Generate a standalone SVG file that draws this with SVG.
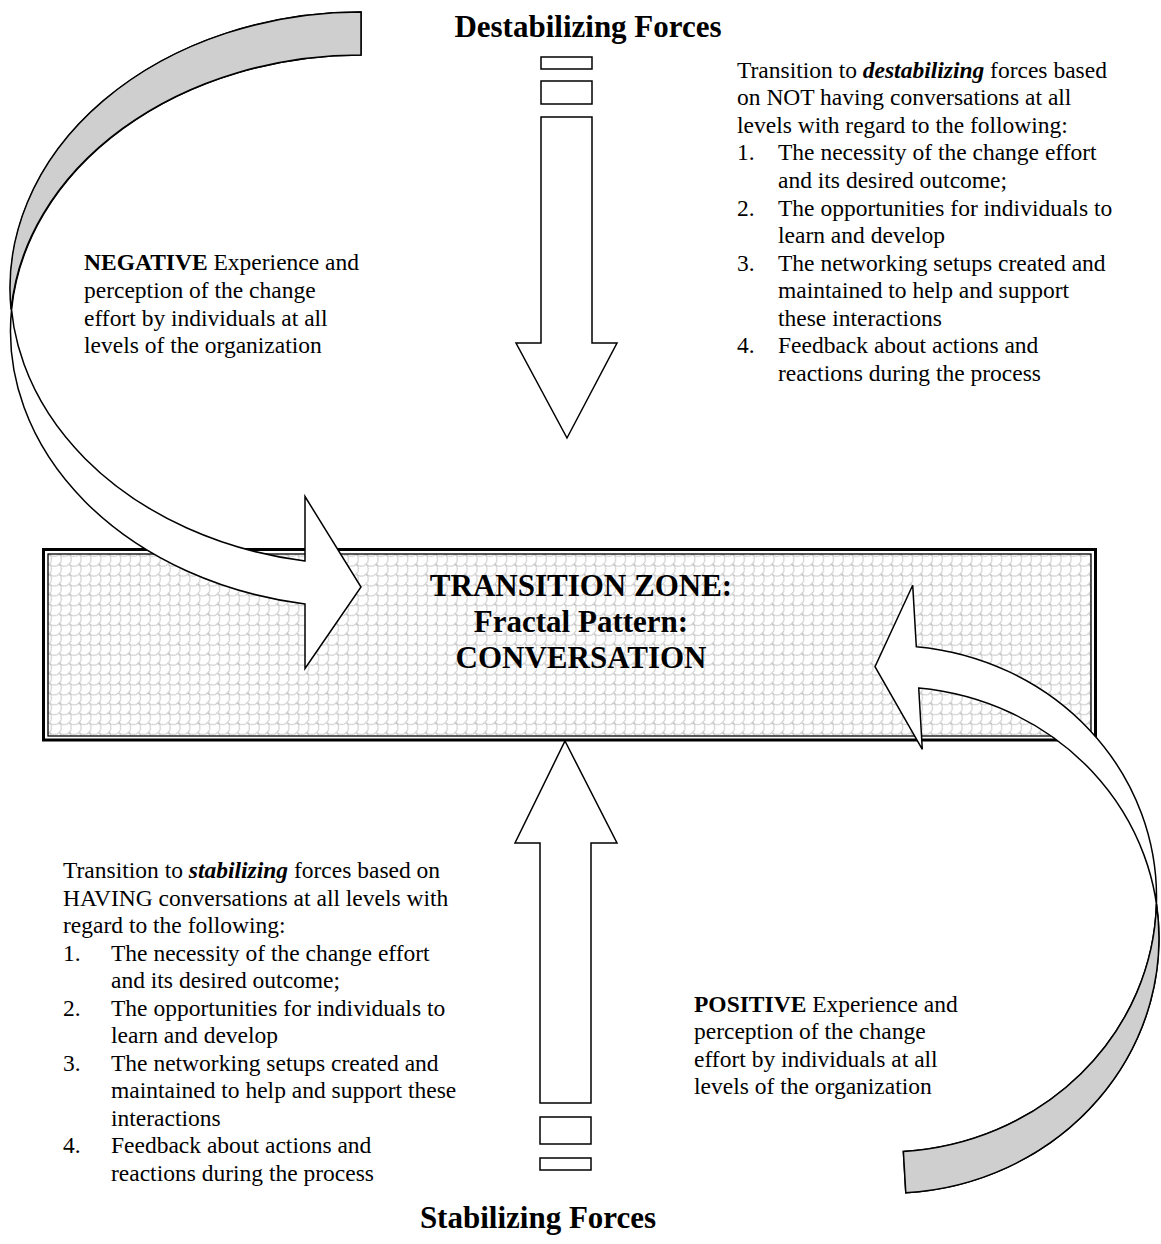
<svg xmlns="http://www.w3.org/2000/svg" width="1161" height="1244" viewBox="0 0 1161 1244">
<defs>
<style>
.shp{fill:#fff;stroke:#000;stroke-width:1.5;stroke-linejoin:miter}
.gry{fill:#cfcfcf;stroke:#000;stroke-width:1.5}
.t{font-family:"Liberation Serif","Times New Roman",serif;font-size:23.5px;fill:#000}
.h{font-family:"Liberation Serif","Times New Roman",serif;font-size:31px;font-weight:bold;fill:#000}
.b{font-weight:bold}
.bi{font-weight:bold;font-style:italic}
</style>
<pattern id="scales" width="14" height="14" patternUnits="userSpaceOnUse" patternTransform="rotate(-45)">
<rect width="14" height="14" fill="#fff"/>
<path d="M0,0 A7,7 0 0 0 14,0 M-7,7 A7,7 0 0 0 7,7 M7,7 A7,7 0 0 0 21,7 M0,14 A7,7 0 0 0 14,14" fill="none" stroke="#bdbdbd" stroke-width="1"/>
</pattern>
</defs>

<g id="titles">
<text class="h" x="588" y="37" text-anchor="middle">Destabilizing Forces</text>
<text class="h" x="538" y="1228" text-anchor="middle">Stabilizing Forces</text>
</g>

<g id="transition-zone">
<rect x="43.5" y="549.5" width="1052" height="190.5" fill="#fff" stroke="#000" stroke-width="3"/>
<rect x="48" y="554" width="1043" height="182" fill="url(#scales)" stroke="#000" stroke-width="1.3"/>
<text class="h" text-anchor="middle"><tspan x="581" y="596">TRANSITION ZONE:</tspan><tspan x="581" y="632">Fractal Pattern:</tspan><tspan x="581" y="668">CONVERSATION</tspan></text>
</g>

<g id="connectors">
<g id="negative-arrow">
<path class="shp" d="M361,12 A351,276.3 0 0 0 305,561 L305,496.5 L361,587 L305,668.5 L305,604 A351,276.3 0 0 1 361,55 Z"/>
<path class="gry" d="M361,12 A351,276.3 0 0 0 11.06,309.8 A351,276.3 0 0 1 361,55 Z"/>
</g>
<g id="positive-arrow" transform="translate(875,666.7) rotate(176.65)">
<path class="shp" d="M0,-527 A268,253.2 0 0 0 -42.4,-23.79 L-42.4,-85.24 L0,0 L-42.4,79.06 L-42.4,17.61 A268,253.2 0 0 1 0,-485.6 Z"/>
<path class="gry" d="M0,-527 A268,253.2 0 0 0 -267.1,-253.1 A268,253.2 0 0 1 0,-485.6 Z"/>
</g>
<g id="destabilizing-arrow">
<rect class="shp" x="541" y="57" width="51" height="12"/>
<rect class="shp" x="541" y="81" width="51" height="23"/>
<polygon class="shp" points="541,117 592,117 592,343 617,343 567,438 516,343 541,343"/>
</g>
<g id="stabilizing-arrow">
<polygon class="shp" points="565,741 617,843 591,843 591,1103 540,1103 540,843 515,843"/>
<rect class="shp" x="540" y="1117" width="51" height="27"/>
<rect class="shp" x="540" y="1158" width="51" height="12"/>
</g>
</g>

<g id="negative-text">
<text class="t"><tspan x="84" y="270"><tspan class="b">NEGATIVE</tspan> Experience and</tspan><tspan x="84" y="298">perception of the change</tspan><tspan x="84" y="326">effort by individuals at all</tspan><tspan x="84" y="353">levels of the organization</tspan></text>
</g>

<g id="destabilizing-text">
<text class="t">
<tspan x="737" y="78">Transition to <tspan class="bi">destabilizing</tspan> forces based</tspan>
<tspan x="737" y="105">on NOT having conversations at all</tspan>
<tspan x="737" y="133">levels with regard to the following:</tspan>
<tspan x="737" y="160">1.</tspan><tspan x="778" y="160">The necessity of the change effort</tspan>
<tspan x="778" y="188">and its desired outcome;</tspan>
<tspan x="737" y="216">2.</tspan><tspan x="778" y="216">The opportunities for individuals to</tspan>
<tspan x="778" y="243">learn and develop</tspan>
<tspan x="737" y="271">3.</tspan><tspan x="778" y="271">The networking setups created and</tspan>
<tspan x="778" y="298">maintained to help and support</tspan>
<tspan x="778" y="326">these interactions</tspan>
<tspan x="737" y="353">4.</tspan><tspan x="778" y="353">Feedback about actions and</tspan>
<tspan x="778" y="381">reactions during the process</tspan>
</text>
</g>

<g id="stabilizing-text">
<text class="t">
<tspan x="63" y="878">Transition to <tspan class="bi">stabilizing</tspan> forces based on</tspan>
<tspan x="63" y="906">HAVING conversations at all levels with</tspan>
<tspan x="63" y="933">regard to the following:</tspan>
<tspan x="63" y="961">1.</tspan><tspan x="111" y="961">The necessity of the change effort</tspan>
<tspan x="111" y="988">and its desired outcome;</tspan>
<tspan x="63" y="1016">2.</tspan><tspan x="111" y="1016">The opportunities for individuals to</tspan>
<tspan x="111" y="1043">learn and develop</tspan>
<tspan x="63" y="1071">3.</tspan><tspan x="111" y="1071">The networking setups created and</tspan>
<tspan x="111" y="1098">maintained to help and support these</tspan>
<tspan x="111" y="1126">interactions</tspan>
<tspan x="63" y="1153">4.</tspan><tspan x="111" y="1153">Feedback about actions and</tspan>
<tspan x="111" y="1181">reactions during the process</tspan>
</text>
</g>

<g id="positive-text">
<text class="t"><tspan x="694" y="1012"><tspan class="b">POSITIVE</tspan> Experience and</tspan><tspan x="694" y="1039">perception of the change</tspan><tspan x="694" y="1067">effort by individuals at all</tspan><tspan x="694" y="1094">levels of the organization</tspan></text>
</g>
</svg>
